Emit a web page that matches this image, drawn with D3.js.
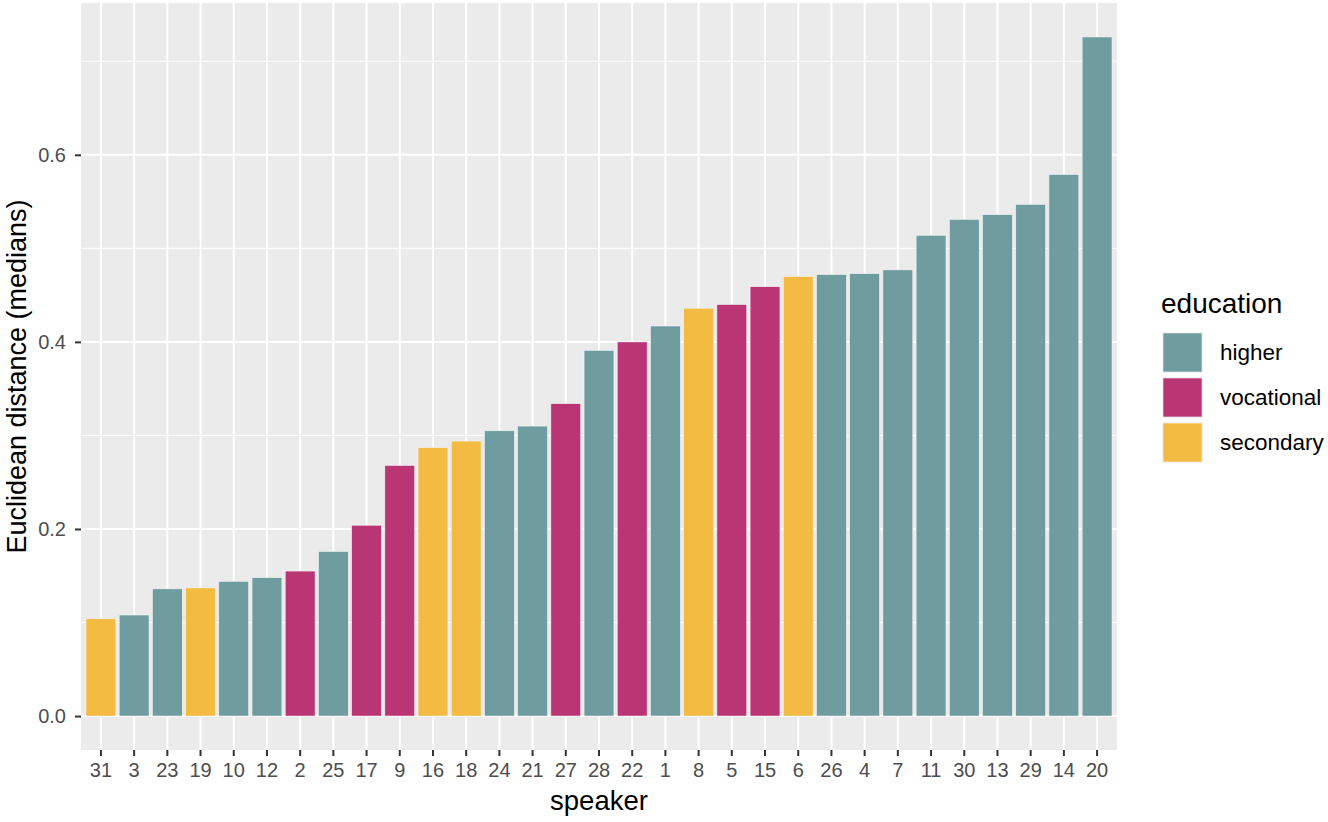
<!DOCTYPE html>
<html>
<head>
<meta charset="utf-8">
<script src="https://cdn.jsdelivr.net/npm/d3@7"></script>
<style>
  body { margin: 0; background: #fff; }
  svg { font-family: "Liberation Sans", Arial, sans-serif; }
</style>
</head>
<body>
<script>
// speakers in plotted order, with their values and education group
const speakers = ["31","3","23","19","10","12","2","25","17","9","16","18","24","21","27","28","22","1","8","5","15","6","26","4","7","11","30","13","29","14","20"];
const distances = [0.104,0.108,0.136,0.137,0.144,0.148,0.155,0.176,0.204,0.268,0.287,0.294,0.305,0.310,0.334,0.391,0.400,0.417,0.436,0.440,0.459,0.470,0.472,0.473,0.477,0.514,0.531,0.536,0.547,0.579,0.726];
const education = ["secondary","higher","higher","secondary","higher","higher","vocational","higher","vocational","vocational","secondary","secondary","higher","higher","vocational","higher","vocational","higher","secondary","vocational","vocational","secondary","higher","higher","higher","higher","higher","higher","higher","higher","higher"];
const groups = ["higher","vocational","secondary"];
const groupColors = ["#6E9C9F","#BA3573","#F3BB42"];
const yTicks = [0, 0.2, 0.4, 0.6];
const yMinor = [0.1, 0.3, 0.5, 0.7];

const data = speakers.map((s, i) => ({ speaker: s, value: distances[i], edu: education[i] }));

const W = 1328, H = 822;
const panel = { left: 81, right: 1117, top: 3, bottom: 750 };

const svg = d3.select("body").append("svg").attr("width", W).attr("height", H);

// ggplot-like discrete expansion: 0.6 units each side
const n = speakers.length;
const step = (panel.right - panel.left) / (n - 1 + 1.2);
const x = d3.scaleBand()
  .domain(speakers)
  .range([panel.left + 0.6 * step - step / 2, panel.right - 0.6 * step + step / 2])
  .paddingInner(0.1).paddingOuter(0.05);

const ymax = d3.max(distances);
const y = d3.scaleLinear()
  .domain([-ymax * 0.05, ymax * 1.05])
  .range([panel.bottom, panel.top]);

const color = d3.scaleOrdinal().domain(groups).range(groupColors);

// panel background
svg.append("rect")
  .attr("x", panel.left).attr("y", panel.top)
  .attr("width", panel.right - panel.left).attr("height", panel.bottom - panel.top)
  .attr("fill", "#EBEBEB");

const grid = svg.append("g");
grid.selectAll(".minor").data(yMinor).join("line")
  .attr("x1", panel.left).attr("x2", panel.right)
  .attr("y1", d => y(d)).attr("y2", d => y(d))
  .attr("stroke", "#fff").attr("stroke-width", 1);
grid.selectAll(".majory").data(yTicks).join("line")
  .attr("x1", panel.left).attr("x2", panel.right)
  .attr("y1", d => y(d)).attr("y2", d => y(d))
  .attr("stroke", "#fff").attr("stroke-width", 2);
grid.selectAll(".majorx").data(speakers).join("line")
  .attr("y1", panel.top).attr("y2", panel.bottom)
  .attr("x1", d => x(d) + x.bandwidth() / 2).attr("x2", d => x(d) + x.bandwidth() / 2)
  .attr("stroke", "#fff").attr("stroke-width", 2);

// bars
svg.append("g").selectAll("rect").data(data).join("rect")
  .attr("x", d => x(d.speaker))
  .attr("width", x.bandwidth())
  .attr("y", d => y(d.value))
  .attr("height", d => y(0) - y(d.value))
  .attr("fill", d => color(d.edu))
  .attr("stroke", "#f4f4f4").attr("stroke-width", 0.6);

// axes
const xAxis = svg.append("g")
  .attr("transform", `translate(0,${panel.bottom})`)
  .call(d3.axisBottom(x).tickSize(6).tickPadding(7));
const yAxis = svg.append("g")
  .attr("transform", `translate(${panel.left},0)`)
  .call(d3.axisLeft(y).tickValues(yTicks).tickFormat(d3.format(".1f")).tickSize(6).tickPadding(9));

[xAxis, yAxis].forEach(a => {
  a.select(".domain").remove();
  a.selectAll(".tick line").attr("stroke", "#333").attr("stroke-width", 2);
  a.selectAll(".tick text").attr("fill", "#4D4D4D").style("font-size", "20px");
});

// axis titles
svg.append("text")
  .attr("x", (panel.left + panel.right) / 2).attr("y", 810)
  .attr("text-anchor", "middle").style("font-size", "27.5px").attr("fill", "#000")
  .text("speaker");
svg.append("text")
  .attr("transform", `translate(26,${(panel.top + panel.bottom) / 2}) rotate(-90)`)
  .attr("text-anchor", "middle").style("font-size", "27px").attr("fill", "#000")
  .text("Euclidean distance (medians)");

// legend
const legend = svg.append("g").attr("transform", "translate(1161,0)");
legend.append("text").attr("x", 0).attr("y", 313)
  .style("font-size", "28px").attr("fill", "#000").text("education");
const keys = legend.selectAll(".key").data(groups).join("g")
  .attr("transform", (d, i) => `translate(0,${331 + i * 45})`);
keys.append("rect")
  .attr("x", 1).attr("y", 1).attr("width", 41).attr("height", 41)
  .attr("fill", "#F2F2F2");
keys.append("rect")
  .attr("x", 2).attr("y", 2).attr("width", 39).attr("height", 39)
  .attr("fill", d => color(d)).attr("stroke", "#f4f4f4").attr("stroke-width", 0.6);
keys.append("text")
  .attr("x", 59).attr("y", 29)
  .style("font-size", "22.5px").attr("fill", "#000")
  .text(d => d);
</script>
</body>
</html>
